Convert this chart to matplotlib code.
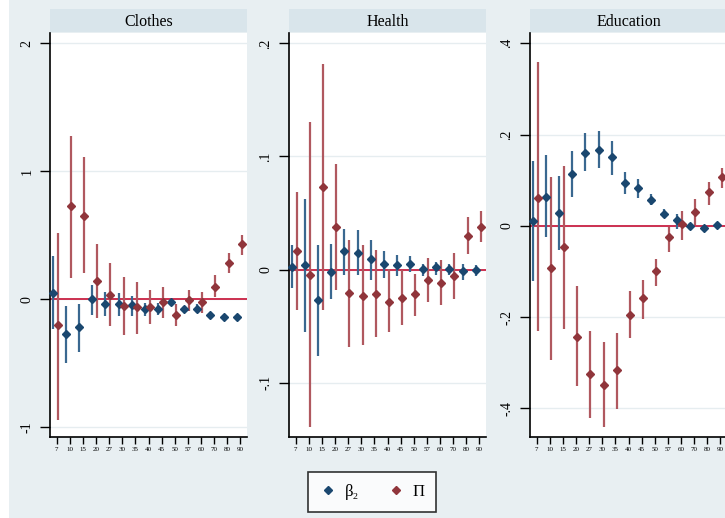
import matplotlib.pyplot as plt
from matplotlib.lines import Line2D
from matplotlib.patches import Rectangle
import numpy as np

# categorias do eixo x
categories = ['7', '10', '15', '20', '27', '30', '35', '40', '45', '50', '57', '60', '70', '80', '90']
panels = ['Clothes', 'Health', 'Education']

# Clothes
clothes_beta = [0.05, -0.27, -0.22, 0.0, -0.035, -0.035, -0.047, -0.073, -0.073, -0.02, -0.073, -0.073, -0.125, -0.135, -0.135]
clothes_beta_lo = [-0.235, -0.5, -0.41, -0.125, -0.13, -0.13, -0.13, -0.13, -0.12, -0.05, -0.09, -0.105, -0.14, -0.15, -0.15]
clothes_beta_hi = [0.34, -0.05, -0.04, 0.11, 0.057, 0.05, 0.023, -0.03, -0.03, 0.0, -0.055, -0.04, -0.11, -0.12, -0.12]
clothes_pi = [-0.2, 0.73, 0.65, 0.14, 0.03, -0.055, -0.06, -0.06, -0.02, -0.12, -0.008, -0.02, 0.1, 0.28, 0.43]
clothes_pi_lo = [-0.945, 0.167, 0.205, -0.146, -0.21, -0.28, -0.27, -0.195, -0.146, -0.21, -0.094, -0.11, 0.018, 0.205, 0.345]
clothes_pi_hi = [0.52, 1.275, 1.11, 0.435, 0.28, 0.175, 0.135, 0.075, 0.1, -0.034, 0.07, 0.06, 0.19, 0.36, 0.5]

# Health
health_beta = [0.0023, 0.004, -0.027, -0.002, 0.0165, 0.015, 0.009, 0.0053, 0.0038, 0.0053, 0.0009, 0.0023, 0.0009, -0.0015, -0.0006]
health_beta_lo = [-0.016, -0.055, -0.076, -0.0257, -0.0044, -0.0044, -0.009, -0.0074, -0.006, -0.002, -0.006, -0.005, -0.005, -0.009, -0.006]
health_beta_hi = [0.0215, 0.0626, 0.0215, 0.023, 0.036, 0.035, 0.026, 0.016, 0.013, 0.012, 0.0053, 0.0067, 0.0053, 0.0053, 0.0044]
health_pi = [0.0165, -0.0044, 0.073, 0.0377, -0.0204, -0.0233, -0.0219, -0.0287, -0.0248, -0.0219, -0.0095, -0.0118, -0.006, 0.0295, 0.0377]
health_pi_lo = [-0.036, -0.139, -0.036, -0.0177, -0.0685, -0.067, -0.0596, -0.055, -0.0487, -0.041, -0.0287, -0.0316, -0.0257, 0.0141, 0.0244]
health_pi_hi = [0.0687, 0.1306, 0.182, 0.093, 0.026, 0.0215, 0.017, 0.0009, -0.0006, -0.0035, 0.0103, 0.0088, 0.0147, 0.0465, 0.0519]

# Education
educ_beta = [0.0095, 0.064, 0.028, 0.114, 0.159, 0.1665, 0.15, 0.0935, 0.0826, 0.057, 0.026, 0.0117, -0.0015, -0.005, 0.002]
educ_beta_lo = [-0.12, -0.025, -0.0526, 0.063, 0.119, 0.126, 0.112, 0.07, 0.062, 0.046, 0.0175, -0.007, -0.01, -0.01, -0.004]
educ_beta_hi = [0.141, 0.156, 0.11, 0.165, 0.204, 0.208, 0.186, 0.117, 0.102, 0.069, 0.0365, 0.026, 0.007, 0.0, 0.008]
educ_pi = [0.062, -0.0927, -0.0467, -0.244, -0.324, -0.349, -0.317, -0.195, -0.159, -0.1, -0.0256, 0.0044, 0.0307, 0.073, 0.108]
educ_pi_lo = [-0.2315, -0.295, -0.2256, -0.352, -0.421, -0.44, -0.401, -0.246, -0.204, -0.131, -0.058, -0.032, 0.002, 0.0445, 0.0826]
educ_pi_hi = [0.36, 0.106, 0.131, -0.133, -0.23, -0.2556, -0.234, -0.142, -0.118, -0.073, -0.003, 0.0335, 0.058, 0.0957, 0.1277]

# eixo y de cada painel
yticks = [[-1, 0, 1, 2], [-0.1, 0, 0.1, 0.2], [-0.4, -0.2, 0, 0.2, 0.4]]
yticklabels = [['-1', '0', '1', '2'], ['-.1', '0', '.1', '.2'], ['-.4', '-.2', '0', '.2', '.4']]
ylims = [(-1.076, 2.077), (-0.148, 0.2087), (-0.463, 0.4215)]

data = [
    (clothes_beta, clothes_beta_lo, clothes_beta_hi, clothes_pi, clothes_pi_lo, clothes_pi_hi),
    (health_beta, health_beta_lo, health_beta_hi, health_pi, health_pi_lo, health_pi_hi),
    (educ_beta, educ_beta_lo, educ_beta_hi, educ_pi, educ_pi_lo, educ_pi_hi),
]

BG = '#e8eff2'
STRIP = '#d9e5eb'
BLUE = '#1a476f'
BLUE_CI = '#3a6890'
RED = '#90353b'
RED_CI = '#b0585f'
ZERO = '#cc3050'

W, H = 725, 518
fig = plt.figure(figsize=(W / 100, H / 100), dpi=100, facecolor=BG)
fig.patches.append(Rectangle((0, 0), 9 / W, 1, transform=fig.transFigure, facecolor='white', edgecolor='none', zorder=-1))

serif = ['Liberation Serif', 'DejaVu Serif']
lefts = [50, 289, 530]
ax_w = 197
top, bottom = 33.5, 437
x = np.arange(len(categories))

for i, name in enumerate(panels):
    l = lefts[i]
    ax = fig.add_axes([l / W, 1 - bottom / H, ax_w / W, (bottom - top) / H])
    ax.set_facecolor('white')

    beta, beta_lo, beta_hi, pi, pi_lo, pi_hi = data[i]
    xb = x - 0.28
    xp = x + 0.1
    ax.axhline(0, color=ZERO, lw=1.4, zorder=1)
    ax.vlines(xb, beta_lo, beta_hi, color=BLUE_CI, lw=1.6, zorder=2)
    ax.plot(xb, beta, 'D', color=BLUE, ms=4, zorder=3, clip_on=False)
    ax.vlines(xp, pi_lo, pi_hi, color=RED_CI, lw=1.6, zorder=2)
    ax.plot(xp, pi, 'D', color=RED, ms=4, zorder=3, clip_on=False)

    ax.set_xlim(-0.5, 14.5)
    ax.set_ylim(ylims[i])
    ax.set_xticks(x)
    ax.set_xticklabels(categories, fontsize=5, family=serif)
    ax.set_yticks(yticks[i])
    ax.set_yticklabels(yticklabels[i], fontsize=10, family=serif, rotation=90, va='center')
    ax.tick_params(axis='y', length=7, width=1, pad=5)
    ax.tick_params(axis='x', length=5, width=1, pad=2)
    ax.grid(axis='y', color='#e6edf0', lw=1)
    ax.set_axisbelow(True)
    for s in ['top', 'right']:
        ax.spines[s].set_visible(False)
    for s in ['left', 'bottom']:
        ax.spines[s].set_linewidth(1.2)

    # faixa do titulo
    strip = fig.add_axes([l / W, 1 - 32.3 / H, ax_w / W, 23 / H])
    strip.set_facecolor(STRIP)
    strip.set_xticks([])
    strip.set_yticks([])
    for s in strip.spines.values():
        s.set_visible(False)
    strip.text(0.5, 0.45, name, ha='center', va='center', fontsize=11.5, family=serif, transform=strip.transAxes)

handles = [
    Line2D([], [], marker='D', color=BLUE, ls='none', ms=4),
    Line2D([], [], marker='D', color=RED, ls='none', ms=4),
]
leg = fig.legend(handles, ['β₂', 'Π'], loc='center', bbox_to_anchor=(372 / W, 1 - 492 / H),
                 ncol=2, frameon=True, fancybox=False, edgecolor='black',
                 handlelength=1.0, handletextpad=0.5, columnspacing=1.7, borderpad=0.7,
                 prop={'family': serif, 'size': 12})
leg.get_frame().set_linewidth(1.2)

plt.savefig('out.png', dpi=100, facecolor=BG)
